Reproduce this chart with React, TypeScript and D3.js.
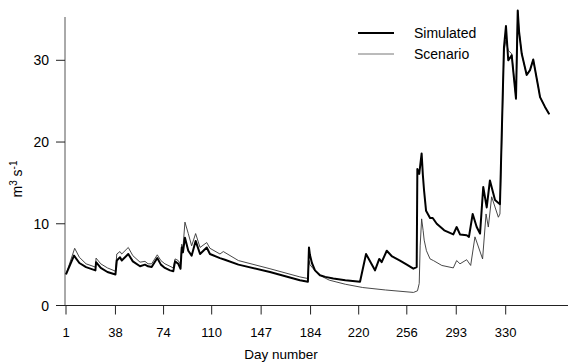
import React, { useEffect, useRef } from "react";
import * as d3 from "d3";

const W = 568;
const H = 364;

// day number / discharge (m3 s-1)
const simDays = [1, 7, 11, 16, 23, 23.5, 27, 32, 38, 39, 41.4, 42.7, 47.6, 51, 56.4, 60.1, 62.4, 65.1, 69.3, 72, 75, 78.8, 81.3, 82.6, 85, 86.7, 87.6, 88.5, 90, 92.5, 95, 98, 101.3, 106.3, 108.7, 116.2, 119.9, 130, 153.6, 176, 182, 182.8, 183.5, 185, 187.3, 191, 195, 201, 210, 221, 225.5, 232.2, 235.4, 237.2, 241, 245, 250.9, 256, 260.9, 263.4, 263.9, 265.3, 267.1, 268, 268.9, 270.4, 273.4, 275.4, 278.4, 284, 290.8, 293.3, 295.8, 300.8, 302.5, 305.3, 308.3, 310.8, 313.2, 315.8, 318.2, 322, 325.7, 328.7, 330.2, 331.9, 334.5, 337.7, 339, 340, 342, 345.7, 348.2, 350.6, 354.4, 355.7, 359.4, 362.6];
const simVals = [3.8, 6.1, 5.2, 4.7, 4.3, 5.3, 4.6, 4.1, 3.8, 5.5, 5.9, 5.5, 6.3, 5.4, 4.8, 5.0, 4.8, 4.7, 5.8, 5.0, 4.6, 4.3, 4.2, 5.4, 5.1, 4.5, 7.1, 6.5, 8.3, 6.7, 6.1, 7.9, 6.3, 7.1, 6.3, 5.8, 5.6, 5.0, 4.1, 3.1, 2.9, 7.1, 6.2, 5.2, 4.3, 3.7, 3.5, 3.3, 3.1, 2.9, 6.3, 4.3, 5.7, 5.3, 6.7, 6.0, 5.5, 5.0, 4.5, 4.7, 16.7, 16.1, 18.6, 16.0, 14.1, 11.6, 10.7, 10.7, 10.0, 9.2, 8.7, 9.6, 8.7, 8.6, 8.4, 11.2, 9.6, 8.8, 14.5, 12.0, 15.3, 12.9, 12.4, 31.6, 34.2, 30.0, 30.6, 25.3, 36.1, 33.5, 30.8, 28.2, 28.8, 30.1, 26.7, 25.5, 24.3, 23.4];

const scenDays = [1, 7.5, 11, 16, 23, 23.5, 27, 32, 38, 39, 41.4, 42.7, 47.6, 51, 56.4, 60.1, 62.4, 65.1, 69.3, 72, 75, 78.8, 81.3, 82.6, 85, 86.7, 87.6, 88.5, 90, 92.5, 95, 98, 101.3, 106.3, 108.7, 116.2, 118.7, 130, 153.6, 176, 182, 182.8, 183.5, 188, 192, 198, 210, 223, 240, 261, 264, 265.3, 266, 267.1, 268.2, 269, 270.7, 273.4, 275.9, 282.2, 290.8, 293.3, 295.8, 300.8, 303.8, 307, 312.7, 315.3, 317, 319.5, 324.5, 325.7, 328.7, 330.2, 331.9, 334.5, 337.7, 339, 340, 342, 345.7, 348.2, 350.6, 354.4, 355.7, 359.4, 362.6];
const scenVals = [3.8, 7.0, 5.9, 5.1, 4.7, 5.8, 5.1, 4.6, 4.2, 6.3, 6.6, 6.3, 7.1, 6.1, 5.3, 5.4, 5.1, 5.1, 6.2, 5.5, 5.1, 4.8, 4.6, 5.7, 5.5, 5.0, 7.5, 7.0, 10.2, 8.8, 7.3, 8.8, 7.1, 7.7, 7.0, 6.3, 6.6, 5.5, 4.5, 3.5, 3.3, 5.5, 5.0, 4.1, 3.6, 3.1, 2.6, 2.2, 1.9, 1.6, 1.8, 2.7, 7.3, 10.6, 9.2, 8.0, 6.7, 5.7, 5.5, 4.9, 4.6, 5.5, 5.1, 5.6, 4.9, 8.4, 5.7, 11.2, 9.6, 13.3, 10.8, 11.2, 31.0, 32.5, 31.2, 30.8, 25.3, 36.1, 33.5, 30.8, 28.2, 28.8, 30.1, 26.7, 25.5, 24.3, 23.4];

const xTicks = [1, 38, 74, 110, 147, 184, 220, 256, 293, 330];
const yTicks = [0, 10, 20, 30];

const font = "Liberation Sans, Arial, Helvetica, sans-serif";

export default function App() {
  const ref = useRef<SVGSVGElement>(null);

  useEffect(() => {
    const svg = d3.select(ref.current);
    svg.selectAll("*").remove();

    const x = d3.scaleLinear().domain([1, 330]).range([66, 505.7]);
    const y = d3.scaleLinear().domain([0, 30]).range([305.5, 60.3]);

    // axes
    svg.append("line")
      .attr("x1", 57).attr("x2", W).attr("y1", y(0)).attr("y2", y(0))
      .attr("stroke", "#222").attr("stroke-width", 1);
    svg.append("line")
      .attr("x1", 65).attr("x2", 65).attr("y1", 17).attr("y2", y(0))
      .attr("stroke", "#555").attr("stroke-width", 1);

    const yg = svg.append("g");
    yTicks.forEach(t => {
      yg.append("line")
        .attr("x1", 56).attr("x2", 65).attr("y1", y(t)).attr("y2", y(t))
        .attr("stroke", "#222");
      yg.append("text")
        .attr("x", 49).attr("y", y(t) + 5)
        .attr("text-anchor", "end")
        .style("font-family", font).style("font-size", "14px")
        .text(t);
    });

    const xg = svg.append("g");
    xTicks.forEach(t => {
      xg.append("line")
        .attr("x1", x(t)).attr("x2", x(t)).attr("y1", y(0)).attr("y2", y(0) + 9)
        .attr("stroke", "#222");
      xg.append("text")
        .attr("x", x(t)).attr("y", 337)
        .attr("text-anchor", "middle")
        .style("font-family", font).style("font-size", "13px")
        .text(t);
    });

    svg.append("text")
      .attr("x", 281).attr("y", 359)
      .attr("text-anchor", "middle")
      .style("font-family", font).style("font-size", "13.5px")
      .text("Day number");

    const yl = svg.append("text")
      .attr("transform", "translate(22,179) rotate(-90)")
      .attr("text-anchor", "middle")
      .style("font-family", font).style("font-size", "14px");
    yl.append("tspan").text("m");
    yl.append("tspan").attr("dy", -5).style("font-size", "10px").text("3");
    yl.append("tspan").attr("dy", 5).text(" s");
    yl.append("tspan").attr("dy", -5).style("font-size", "10px").text("-1");

    const sim = simDays.map((d, i) => [x(d), y(simVals[i])] as [number, number]);
    const scen = scenDays.map((d, i) => [x(d), y(scenVals[i])] as [number, number]);
    const path = d3.line();

    svg.append("path")
      .attr("d", path(scen))
      .attr("fill", "none").attr("stroke", "#333").attr("stroke-width", 0.9)
      .attr("stroke-linejoin", "round");
    svg.append("path")
      .attr("d", path(sim))
      .attr("fill", "none").attr("stroke", "#000").attr("stroke-width", 2)
      .attr("stroke-linejoin", "round");

    // legend
    const lg = svg.append("g");
    lg.append("line").attr("x1", 358).attr("x2", 394).attr("y1", 33).attr("y2", 33)
      .attr("stroke", "#000").attr("stroke-width", 2);
    lg.append("line").attr("x1", 358).attr("x2", 394).attr("y1", 54).attr("y2", 54)
      .attr("stroke", "#777").attr("stroke-width", 1);
    lg.append("text").attr("x", 414).attr("y", 38)
      .style("font-family", font).style("font-size", "14px").text("Simulated");
    lg.append("text").attr("x", 414).attr("y", 59)
      .style("font-family", font).style("font-size", "14px").text("Scenario");
  }, []);

  return (
    <svg ref={ref} width={W} height={H}
      style={{ position: "absolute", left: 0, top: 0, background: "#fff" }} />
  );
}
